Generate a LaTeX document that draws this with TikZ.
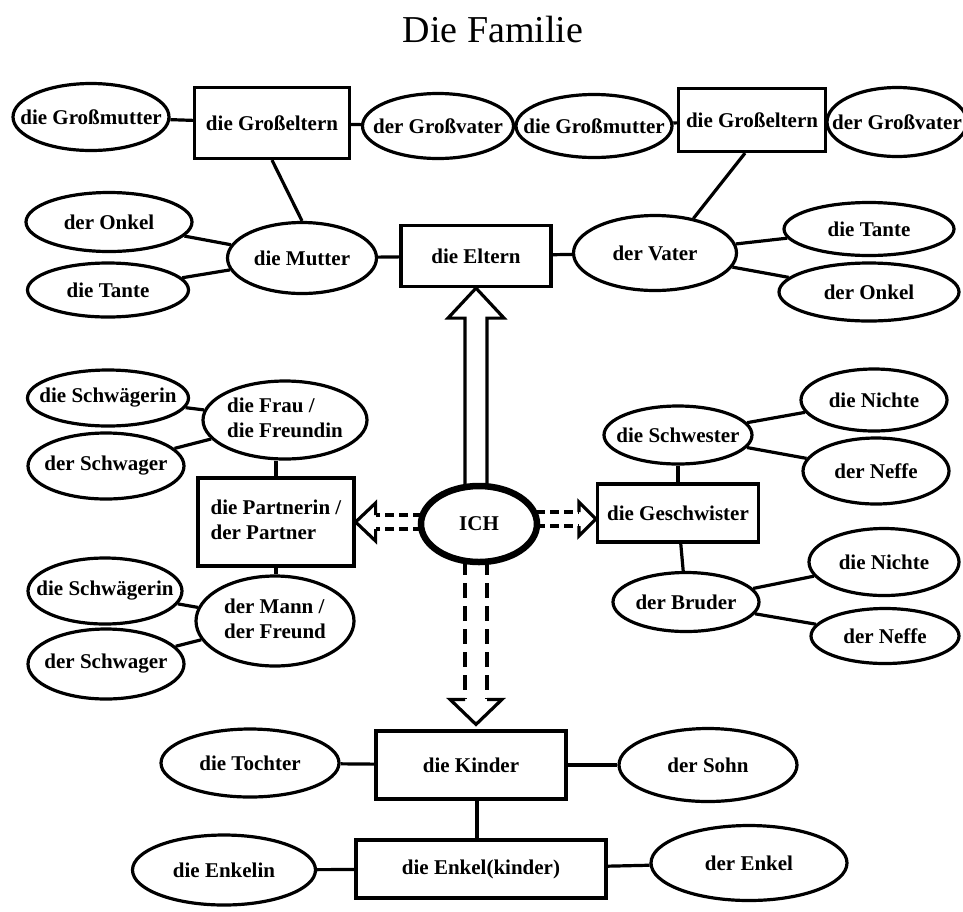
\documentclass[tikz,border=0pt]{standalone}
\usepackage{fontspec}
\setmainfont{Liberation Serif}
\usetikzlibrary{shapes.geometric,calc}
\newcommand{\zb}[1]{\makebox[0pt]{#1}}
\newcommand{\zt}[1]{\makebox[0pt]{\begin{tabular}{@{}l@{}}#1\end{tabular}}}
\begin{document}
\begin{tikzpicture}[x=1pt,y=-1pt,
  lw/.style={line width=3.2pt},
  nfont/.style={font=\fontsize{21}{25}\selectfont\bfseries},
  sz/.style 2 args={minimum width=#1pt, minimum height=#2pt},
  ell/.style={ellipse, draw, lw, inner sep=0pt, nfont},
  box/.style={rectangle, draw, lw, inner sep=0pt, nfont},
  con/.style={lw},
  hollow/.style={line width=3.2pt, line join=miter, line cap=butt},
  dsh/.style={line width=3.2pt, dash pattern=on 9pt off 5pt},
  dshv/.style={line width=3.2pt, dash pattern=on 15pt off 8pt}
]
\useasboundingbox (0,0) rectangle (963,911);
\node[font=\fontsize{38}{44}\selectfont, anchor=base] (title) at (493,42) {Die Familie};

% top left
\node[ell,sz={156}{67}] (gmL) at (91,117) {\zb{die Großmutter}};
\node[box,sz={155}{71}] (geL) at (272,123) {\zb{die Großeltern}};
\node[ell,sz={151}{65}] (gvL) at (438,126) {\zb{der Großvater}};
\node[ell,sz={166}{59}] (onkelL) at (109,222) {\zb{der Onkel}};
\node[ell,sz={161}{54}] (tanteL) at (108,290) {\zb{die Tante}};
\node[ell,sz={149}{71}] (mutter) at (302,258) {\zb{die Mutter}};
\node[box,sz={150}{61}] (eltern) at (476,256) {\zb{die Eltern}};

% top right
\node[ell,sz={156}{63}] (gmR) at (594,126) {\zb{die Großmutter}};
\node[box,sz={147}{63}] (geR) at (752,120) {\zb{die Großeltern}};
\node[ell,sz={140}{69}] (gvR) at (897,122) {\zb{der Großvater}};
\node[ell,sz={163}{75}] (vater) at (655,253) {\zb{der Vater}};
\node[ell,sz={170}{53}] (tanteR) at (869,229) {\zb{die Tante}};
\node[ell,sz={180}{58}] (onkelR) at (869,292) {\zb{der Onkel}};

% middle left
\node[ell,sz={161}{56}] (schwaegA) at (108,398) {\zb{die Schwägerin}};
\node[ell,sz={156}{66}] (schwagA) at (106,466) {\zb{der Schwager}};
\node[ell,sz={164}{78}] (frau) at (285,420) {\zt{die Frau /\\die Freundin}};
\node[box,sz={156}{88}] (partner) at (276,522) {\zt{die Partnerin /\\der Partner}};
\node[ell,sz={158}{90}] (mann) at (275,621) {\zt{der Mann /\\der Freund}};
\node[ell,sz={154}{66}] (schwaegB) at (105,591) {\zb{die Schwägerin}};
\node[ell,sz={156}{70}] (schwagB) at (106,664) {\zb{der Schwager}};

% center
\node[ellipse, draw, line width=6.5pt, inner sep=0pt, nfont, sz={116}{76}] (ich) at (479,524) {\zb{ICH}};

% middle right
\node[ell,sz={148}{58}] (schwester) at (678,435) {\zb{die Schwester}};
\node[ell,sz={146}{62}] (nichteA) at (874,400) {\zb{die Nichte}};
\node[ell,sz={146}{66}] (neffeA) at (876,471) {\zb{der Neffe}};
\node[box,sz={161}{58}] (geschw) at (678,513) {\zb{die Geschwister}};
\node[ell,sz={146}{59}] (bruder) at (686,602) {\zb{der Bruder}};
\node[ell,sz={150}{67}] (nichteB) at (884,562) {\zb{die Nichte}};
\node[ell,sz={148}{55}] (neffeB) at (885,636) {\zb{der Neffe}};

% bottom
\node[ell,sz={178}{68}] (tochter) at (250,763) {\zb{die Tochter}};
\node[box,sz={190}{68}] (kinder) at (471,765) {\zb{die Kinder}};
\node[ell,sz={178}{73}] (sohn) at (708,765) {\zb{der Sohn}};
\node[ell,sz={183}{70}] (enkelin) at (224,870) {\zb{die Enkelin}};
\node[box,sz={250}{58}] (enkelk) at (481,869) {\zb{die Enkel(kinder)}};
\node[ell,sz={196}{75}] (enkel) at (749,863) {\zb{der Enkel}};

% connectors top
\draw[con] (gmL) -- (geL);
\draw[con] (geL) -- (gvL);
\draw[con] (geL.south) -- (mutter.north);
\draw[con] (onkelL) -- (mutter);
\draw[con] (tanteL) -- (mutter);
\draw[con] (mutter) -- (eltern);
\draw[con] (eltern) -- (vater);
\draw[con] (gmR) -- (geR);
\draw[con] (geR) -- (gvR);
\draw[con] ([xshift=-7pt]geR.south) -- (vater.42);
\draw[con] (vater) -- (tanteR);
\draw[con] (vater) -- (onkelR);

% connectors middle left
\draw[con] (schwaegA) -- (frau);
\draw[con] (schwagA) -- (frau);
\draw[con] (frau.south -| partner.north) -- (partner.north);
\draw[con] (partner.south) -- (partner.south |- mann.north);
\draw[con] (schwaegB) -- (mann);
\draw[con] (schwagB) -- (mann);

% connectors middle right
\draw[con] (schwester) -- (geschw);
\draw[con] (geschw) -- (bruder);
\draw[con] (schwester) -- (nichteA);
\draw[con] (schwester) -- (neffeA);
\draw[con] (bruder) -- (nichteB);
\draw[con] (bruder) -- (neffeB);

% connectors bottom
\draw[con] (tochter) -- (kinder);
\draw[con] (kinder) -- (sohn);
\draw[con] ([xshift=6pt]kinder.south) -- ([xshift=-4pt]enkelk.north);
\draw[con] (enkelin) -- (enkelk);
\draw[con] (enkelk) -- (enkel);

% arrow up (solid hollow)
\coordinate (itop) at ($(ich.center)+(0,-36)$);
\coordinate (ua) at ($(eltern.south)+(-11,30)$);
\coordinate (ub) at ($(eltern.south)+(11,30)$);
\draw[hollow] (ua |- itop) -- (ua) -- ($(eltern.south)+(-28,30)$) -- (eltern.south)
  -- ($(eltern.south)+(28,30)$) -- (ub) -- (ub |- itop);

% arrow down (dashed)
\coordinate (ibot) at ($(ich.center)+(0,36)$);
\coordinate (dt) at ($(kinder.north)+(5,-5)$);
\coordinate (da) at ($(dt)+(-11,-25)$);
\coordinate (db) at ($(dt)+(11,-25)$);
\draw[dshv] (da |- ibot) -- (da);
\draw[dshv] (db |- ibot) -- (db);
\draw[hollow] (da) -- ($(dt)+(-26,-25)$) -- (dt) -- ($(dt)+(26,-25)$) -- (db);

% arrow left (dashed)
\coordinate (il) at ($(ich.center)+(-57,0)$);
\coordinate (lt) at (partner.east);
\coordinate (la) at ($(lt)+(20,-7)$);
\coordinate (lb) at ($(lt)+(20,7)$);
\draw[hollow] (la) -- ($(lt)+(20,-19)$) -- (lt) -- ($(lt)+(20,19)$) -- (lb);
\draw[dsh] (la -| il) -- (la);
\draw[dsh] (lb -| il) -- (lb);

% arrow right (dashed)
\coordinate (ir) at ($(ich.center)+(57,0)$);
\coordinate (rt) at ($(geschw.west)+(0,6)$);
\coordinate (ra) at ($(rt)+(-17,-7)$);
\coordinate (rb) at ($(rt)+(-17,7)$);
\draw[hollow] (ra) -- ($(rt)+(-17,-17)$) -- (rt) -- ($(rt)+(-17,17)$) -- (rb);
\draw[dsh] (ra -| ir) -- (ra);
\draw[dsh] (rb -| ir) -- (rb);
\end{tikzpicture}
\end{document}
